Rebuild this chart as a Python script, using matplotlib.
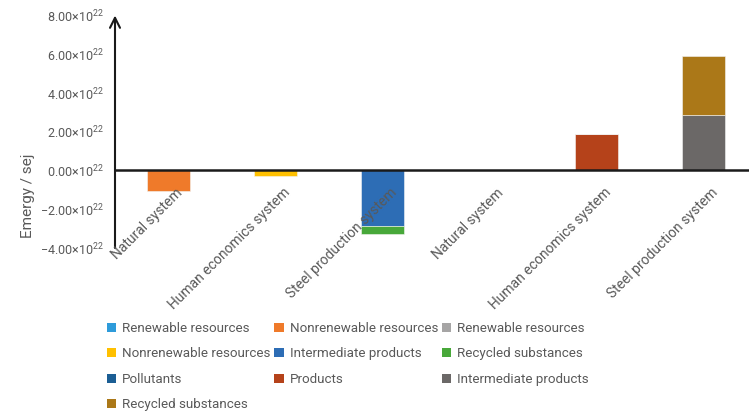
import matplotlib
matplotlib.use("Agg")
import matplotlib.pyplot as plt
import matplotlib.transforms as mtransforms
from matplotlib.patches import Patch
import numpy as np

plt.rcParams['font.family'] = ['Roboto', 'DejaVu Sans']
plt.rcParams['mathtext.fontset'] = 'custom'
plt.rcParams['mathtext.rm'] = 'Roboto'

categories = ["Natural system", "Human economics system", "Steel production system",
              "Natural system", "Human economics system", "Steel production system"]

# series (values in 1e22 sej), one value per category
series_names = ["Renewable resources", "Nonrenewable resources", "Renewable resources",
                "Nonrenewable resources", "Intermediate products", "Recycled substances",
                "Pollutants", "Products", "Intermediate products", "Recycled substances"]
series_colors = ["#2E9BDA", "#EF7A2A", "#A6A5A5", "#FFC000", "#2D6DB5", "#48A83A",
                 "#1B5E94", "#B5421A", "#6B6867", "#AB7818"]

renew_in_nat = [0, 0, 0, 0, 0, 0]
nonrenew_in_nat = [-1.05, 0, 0, 0, 0, 0]
renew_in_hum = [0, 0, 0, 0, 0, 0]
nonrenew_in_hum = [0, -0.26, 0, 0, 0, 0]
intermediate_in = [0, 0, -2.86, 0, 0, 0]
recycled_in = [0, 0, -0.40, 0, 0, 0]
pollutants_out = [0, 0, 0, 0, 0, 0]
products_out = [0, 0, 0, 0, 1.90, 0]
intermediate_out = [0, 0, 0, 0, 0, 2.86]
recycled_out = [0, 0, 0, 0, 0, 3.03]

series = [renew_in_nat, nonrenew_in_nat, renew_in_hum, nonrenew_in_hum, intermediate_in,
          recycled_in, pollutants_out, products_out, intermediate_out, recycled_out]

ytick_vals = [-4, -2, 0, 2, 4, 6, 8]
ytick_labels = [r'$\mathregular{%.2f{\times}10^{22}}$' % v for v in ytick_vals]

W, H = 749, 415
fig = plt.figure(figsize=(W / 100, H / 100), dpi=100)
ax = fig.add_axes([115 / W, 1 - 248 / H, 642 / W, (248 - 15.5) / H])

x = np.arange(len(categories))
pos_base = np.zeros(len(categories))
neg_base = np.zeros(len(categories))
handles = []
for name, col, vals in zip(series_names, series_colors, series):
    vals = np.array(vals, dtype=float)
    bottoms = np.where(vals >= 0, pos_base, neg_base)
    ax.bar(x, vals, width=0.40, bottom=bottoms, color=col, edgecolor='#f4f4f4',
           linewidth=0.4, zorder=1)
    pos_base += np.where(vals >= 0, vals, 0)
    neg_base += np.where(vals < 0, vals, 0)
    handles.append(Patch(facecolor=col, edgecolor='none', label=name))

ax.set_xlim(-0.5, 5.5)
ax.set_ylim(-4, 8)
for s in ['top', 'right', 'left']:
    ax.spines[s].set_visible(False)
ax.spines['bottom'].set_position(('data', 0))
ax.spines['bottom'].set_color('#1a1a1a')
ax.spines['bottom'].set_linewidth(1.8)
ax.spines['bottom'].set_zorder(3)
ax.xaxis.set_zorder(4)

# y axis with arrow
ax.annotate('', xy=(0, 1.0), xytext=(0, 0), xycoords='axes fraction',
            arrowprops=dict(arrowstyle='->', color='#1a1a1a', lw=1.5,
                            mutation_scale=18, shrinkA=0, shrinkB=0))

ax.set_yticks(ytick_vals)
ax.set_yticklabels(ytick_labels, fontsize=9, color='#595959')
ax.tick_params(axis='y', length=0, pad=8)
ax.set_xticks(x)
ax.set_xticklabels(categories, fontsize=10, color='#595959', rotation=45,
                   ha='right', va='center', rotation_mode='anchor')
ax.tick_params(axis='x', length=0, pad=0)
offset = mtransforms.ScaledTranslation(12 / 100, -20 / 100, fig.dpi_scale_trans)
for lbl in ax.get_xticklabels():
    lbl.set_transform(lbl.get_transform() + offset)

fig.text(28 / W, 1 - 196 / H, 'Emergy / sej', rotation=90, fontsize=11,
         color='#595959', ha='center', va='center')

order = [0, 3, 6, 9, 1, 4, 7, 2, 5, 8]
leg = fig.legend([handles[i] for i in order], [series_names[i] for i in order],
                 ncol=3, loc='upper left', bbox_to_anchor=(107 / W, 1 - 322 / H),
                 frameon=False, fontsize=9.6, handlelength=0.68, handleheight=0.68,
                 handletextpad=0.45, columnspacing=0.3, labelspacing=0.93,
                 borderaxespad=0, borderpad=0)
for t in leg.get_texts():
    t.set_color('#595959')

fig.savefig('out.png', dpi=100)
